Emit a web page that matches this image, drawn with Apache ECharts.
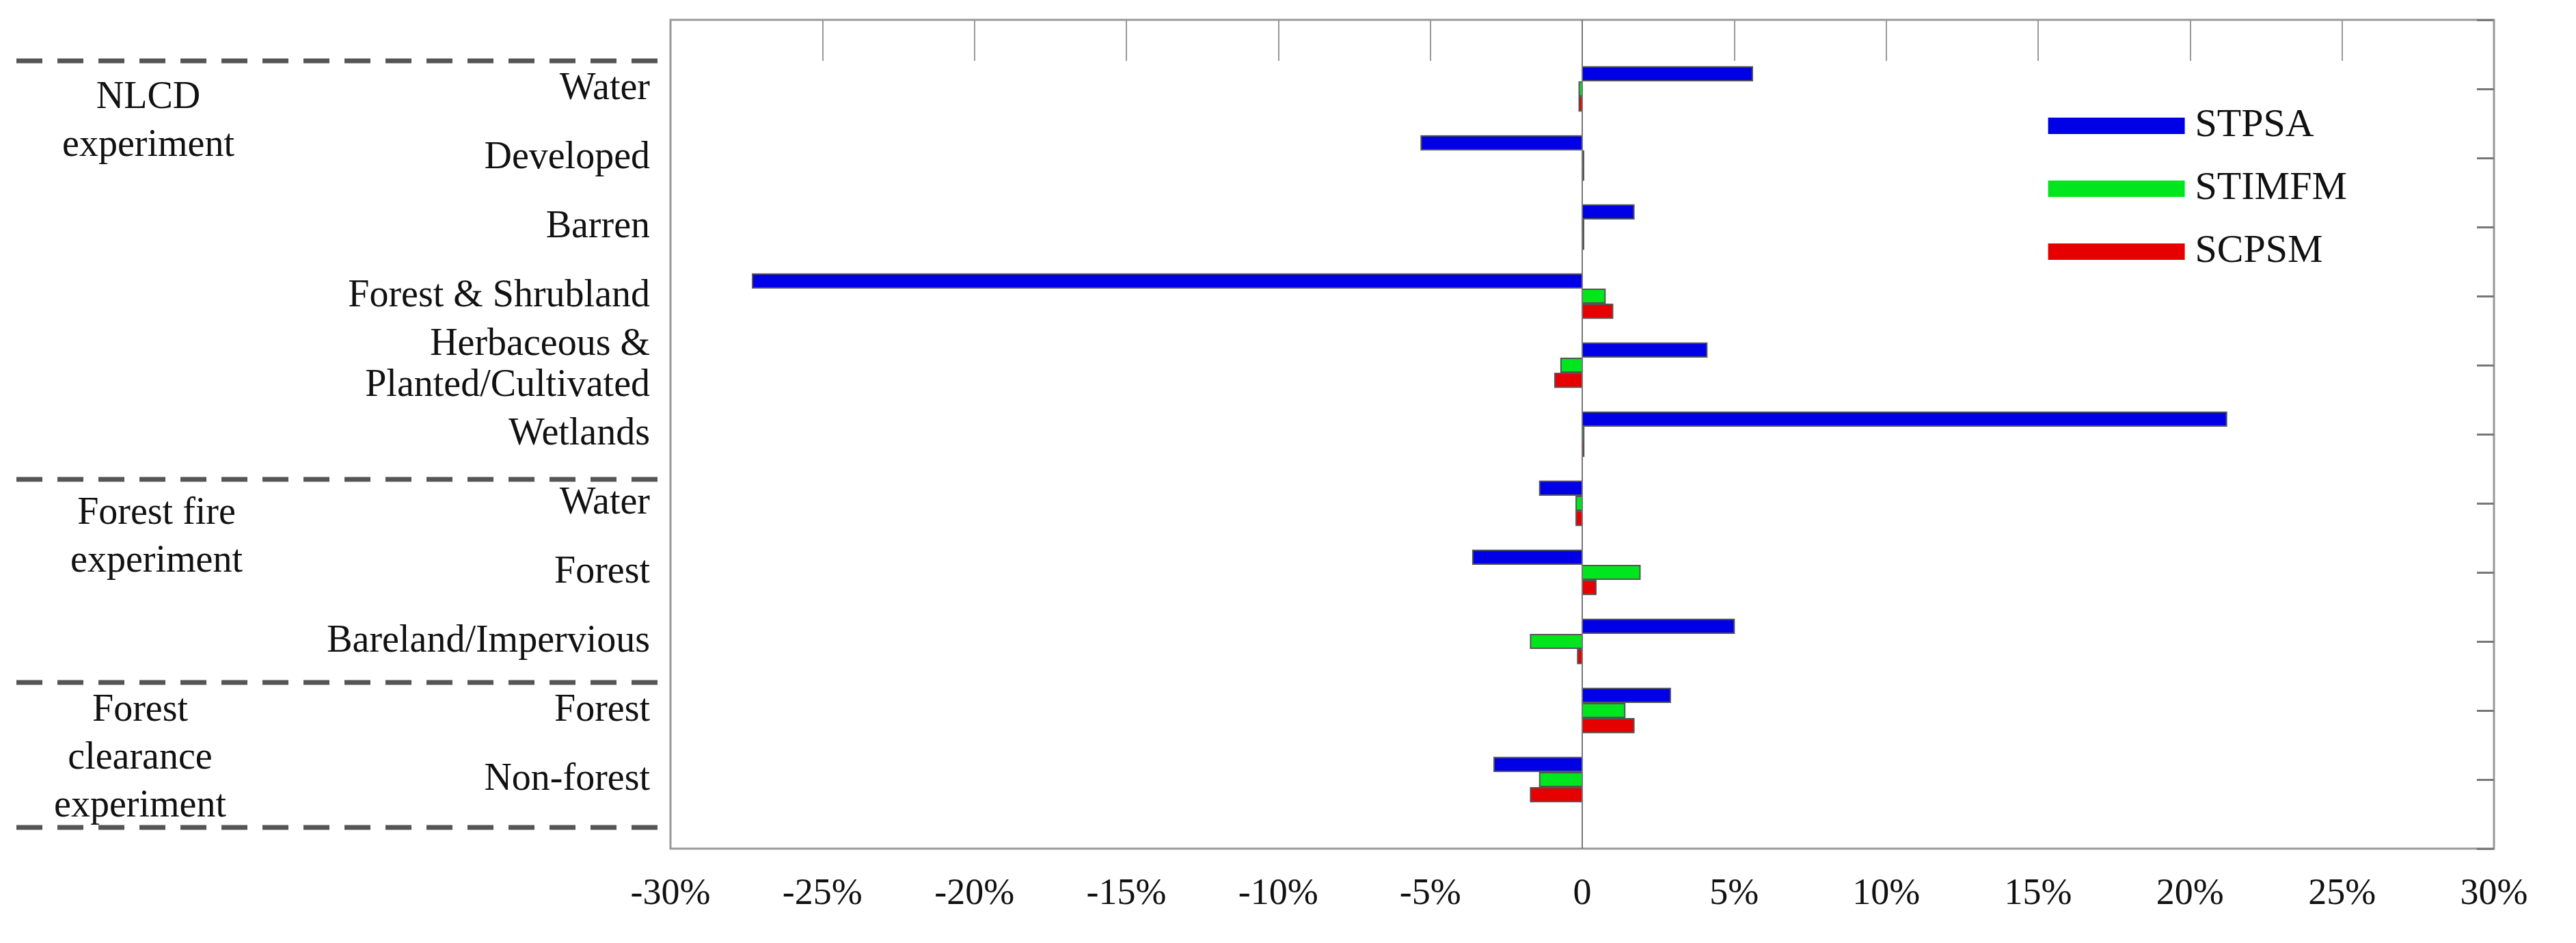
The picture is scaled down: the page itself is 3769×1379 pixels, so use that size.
<!DOCTYPE html>
<html><head><meta charset="utf-8">
<script src="https://cdn.jsdelivr.net/npm/echarts@6/dist/echarts.min.js"></script>
<style>html,body{margin:0;padding:0;background:#fff}#c{width:3769px;height:1379px}</style>
</head><body><div id="c"></div>
<script>
const categories = ['Water','Developed','Barren','Forest & Shrubland','Herbaceous &\nPlanted/Cultivated','Wetlands','Water','Forest','Bareland/Impervious','Forest','Non-forest'];
const stpsa  = [5.6, -5.3, 1.7, -27.3, 4.1, 21.2, -1.4, -3.6, 5.0, 2.9, -2.9];
const stimfm = [-0.1, 0, 0, 0.75, -0.7, 0.05, -0.2, 1.9, -1.7, 1.4, -1.4];
const scpsm  = [-0.1, 0, 0, 1.0, -0.9, 0.05, -0.2, 0.45, -0.15, 1.7, -1.7];
const xTicks = [-30,-25,-20,-15,-10,-5,0,5,10,15,20,25,30];
const groups = ['NLCD\nexperiment','Forest fire\nexperiment','Forest\nclearance\nexperiment'];

const FONT = 'Liberation Serif';
function mk(name, vals, color, off, withZero){
  const s = {
    name, type:'custom', coordinateSystem:'cartesian2d',
    data: vals.map((v,i)=>[v, i+1]),
    encode:{x:0,y:1},
    renderItem(params, api){
      const v = api.value(0), y = api.value(1)+off;
      const p0 = api.coord([0, y]), p1 = api.coord([v, y]);
      const h = api.size([0, 0.2])[1];
      return {type:'rect', shape:{x:Math.min(p0[0],p1[0]), y:p0[1]-h/2, width:Math.max(Math.abs(p1[0]-p0[0]),2), height:h},
        style:{fill:color, stroke:'#555', lineWidth:2}};
    },
    itemStyle:{color}
  };
  if (withZero) s.markLine = {silent:true, symbol:'none', label:{show:false}, lineStyle:{color:'#777', width:2, type:'solid'}, data:[{xAxis:0}]};
  return s;
}
const chart = echarts.init(document.getElementById('c'));
const dash = (y)=>({type:'line', shape:{x1:24,y1:y,x2:969,y2:y}, style:{stroke:'#555', lineWidth:7, lineDash:[38,22]}});
const gtext = (t,x,y)=>({type:'text', x, y, style:{text:t, font:'56px "Liberation Serif"', fill:'#111', align:'center', verticalAlign:'middle', lineHeight:70}});
chart.setOption({
  animation:false,
  grid:{left:981, right:120, top:29, bottom:138, show:true, borderColor:'#999', borderWidth:3, containLabel:false},
  legend:{right:330, top:150, orient:'vertical', itemWidth:200, itemHeight:24, itemGap:34, icon:'rect',
    textStyle:{fontFamily:FONT, fontSize:58, color:'#111', padding:[0,0,0,10]}, data:['STPSA','STIMFM','SCPSM']},
  xAxis:[
    {type:'value', position:'bottom', min:-30, max:30, interval:5, axisLine:{show:false, onZero:false}, splitLine:{show:false},
     axisTick:{show:false},
     axisLabel:{margin:40, fontFamily:FONT, fontSize:54, color:'#111', formatter:v=> v===0?'0':v+'%'}},
    {type:'value', position:'top', min:-30, max:30, interval:5, axisLine:{show:false, onZero:false}, splitLine:{show:false},
     axisTick:{show:true, inside:true, length:60, lineStyle:{color:'#999', width:2}}, axisLabel:{show:false}}
  ],
  yAxis:[
    {type:'value', position:'left', min:0, max:12, interval:1, inverse:true, axisLine:{show:false, onZero:false}, splitLine:{show:false},
     axisTick:{show:false},
     axisLabel:{margin:30, fontFamily:FONT, fontSize:56, color:'#111', lineHeight:60, padding:[14,0,0,0],
       formatter:v=> (v>=1 && v<=11) ? categories[v-1] : ''}},
    {type:'value', position:'right', min:0, max:12, interval:1, inverse:true, axisLine:{show:false, onZero:false}, splitLine:{show:false},
     axisTick:{show:true, inside:true, length:25, lineStyle:{color:'#777', width:3}}, axisLabel:{show:false}}
  ],
  graphic:[dash(89), dash(701), dash(998), dash(1210),
    gtext(groups[0],217,178), gtext(groups[1],229,786), gtext(groups[2],205,1109)],
  series:[mk('STPSA', stpsa, '#0000e6', -0.22, true), mk('STIMFM', stimfm, '#00e61e', 0, false), mk('SCPSM', scpsm, '#e60000', 0.22, false)]
});
</script></body></html>
